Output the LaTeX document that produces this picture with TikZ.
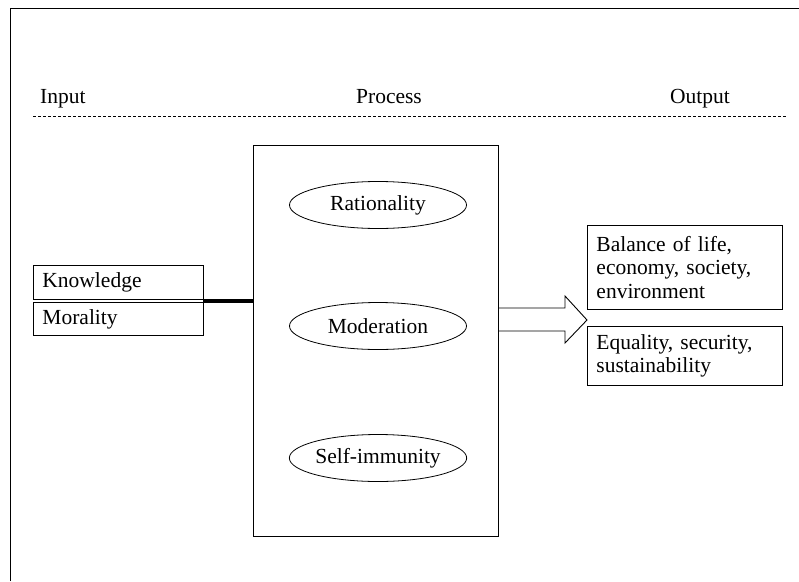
\documentclass[tikz,border=0pt]{standalone}
\usepackage{fontspec}
\setmainfont{Liberation Serif}
\usetikzlibrary{shapes.geometric}
\tikzset{
  every node/.style={font=\fontsize{21.5}{23.5}\selectfont},
  lbox/.style={draw, line width=0.9pt, anchor=north west, inner xsep=9pt, inner ysep=0pt, align=left},
  oval/.style={draw, ellipse, line width=0.8pt, minimum width=177pt, minimum height=47pt, inner sep=0pt},
  frame/.style={line width=1pt},
  hdr/.style={inner sep=0pt}
}
\begin{document}
\begin{tikzpicture}[x=1pt,y=-1pt]
\useasboundingbox (0,0) rectangle (799,581);
% outer frame (partial)
\coordinate (fa) at (10,581);
\coordinate (fb) at (10,8);
\coordinate (fc) at (799,8);
\draw[frame] (fa) -- (fb) -- (fc);
% headers
\node[hdr, anchor=base west] (input) at (40,103) {Input};
\node[hdr, anchor=base] (process) at (389,103) {Process};
\node[hdr, anchor=base] (output) at (700,103) {Output};
\coordinate (dl) at (33,116);
\coordinate (dr) at (786,116);
\draw[line width=0.8pt, dash pattern=on 3pt off 2pt] (dl) -- (dr);
% input boxes
\node[lbox, text width=152pt, minimum height=34pt] (know) at (33,265) {Knowledge};
\node[lbox, text width=152pt, minimum height=33pt] (moral) at (33,302) {Morality};
% process box
\node[draw, line width=0.9pt, anchor=north west, minimum width=245pt, minimum height=391pt, inner sep=0pt] (proc) at (253,145) {};
\node[oval] (rat) at (378,205) {Rationality};
\node[oval] (mod) at (378,326) {Moderation};
\node[oval] (self) at (378,458) {Self-immunity};
% thick connector
\coordinate (kj) at (203,301);
\draw[line width=3.5pt] (kj) -- (kj -| proc.west);
% output boxes
\node[lbox, text width=177pt, minimum height=84pt] (bal) at (587,225) {Balance of life,\\economy, society,\\environment};
\node[lbox, text width=177pt, minimum height=59pt] (eq) at (587,326) {Equality, security,\\sustainability};
% block arrow
\coordinate (a1) at (498,308);
\coordinate (a7) at (498,331);
\draw[line width=0.9pt, line join=miter] (a1) -- (565,308) -- (565,296) -- (587,320) -- (565,343) -- (565,331) -- (a7);
\end{tikzpicture}
\end{document}
